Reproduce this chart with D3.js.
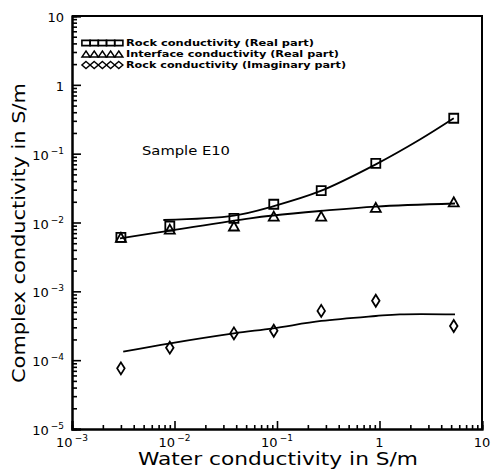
<!DOCTYPE html>
<html>
<head>
<meta charset="utf-8">
<script src="https://cdn.jsdelivr.net/npm/d3@7/dist/d3.min.js"></script>
<style>
  html, body { margin: 0; padding: 0; background: #fff; }
  svg { display: block; }
  text { font-family: "DejaVu Sans", "Liberation Sans", sans-serif; fill: #000; }
</style>
</head>
<body>
<svg id="chart" width="491" height="470"></svg>
<script>
// Water conductivity (S/m) at which sample E10 was measured
const waterCond = [0.003, 0.009, 0.038, 0.093, 0.27, 0.92, 5.3];

// Measured values (S/m)
const rockReal      = [0.0061, 0.0089, 0.0115, 0.0184, 0.029, 0.0724, 0.327];
const interfaceReal = [0.0061, 0.0080, 0.0089, 0.0124, 0.0124, 0.0166, 0.0200];
const rockImag      = [7.6e-5, 1.52e-4, 2.45e-4, 2.68e-4, 5.2e-4, 7.3e-4, 3.13e-4];

// Model curves: [water conductivity, complex conductivity]
const rockRealFit = [[0.00778, 0.01087], [0.038, 0.0126], [0.0914, 0.0172], [0.263, 0.0285], [0.92, 0.070], [2.48, 0.1607], [5.3, 0.327]];
const interfaceFit = [[0.00294, 0.00589], [0.00909, 0.00764], [0.0546, 0.0115], [0.0914, 0.01264], [0.263, 0.01469], [0.92, 0.01706], [5.45, 0.01888]];
const rockImagFit = [[0.00316, 1.327e-4], [0.00909, 1.757e-4], [0.038, 2.45e-4], [0.0914, 2.90e-4], [0.27, 3.71e-4], [0.92, 4.38e-4], [1.585, 4.64e-4], [5.45, 4.64e-4]];

// Axis tick labels
const xTickValues = [1e-3, 1e-2, 1e-1, 1, 10];
const xTickLabels = [["10", "−3"], ["10", "−2"], ["10", "−1"], ["1", ""], ["10", ""]];
const yTickValues = [1e-5, 1e-4, 1e-3, 1e-2, 1e-1, 1, 10];
const yTickLabels = [["10", "−5"], ["10", "−4"], ["10", "−3"], ["10", "−2"], ["10", "−1"], ["1", ""], ["10", ""]];

const legendNames = ["Rock conductivity (Real part)", "Interface conductivity (Real part)", "Rock conductivity (Imaginary part)"];
const legendLengths = [188, 213, 220];
const sampleName = "Sample E10";

const svg = d3.select("#chart");
const plotLeft = 72, plotRight = 482, plotTop = 16, plotBottom = 429;

const x = d3.scaleLog().domain([1e-3, 10]).range([plotLeft, plotRight]);
const y = d3.scaleLog().domain([1e-5, 10]).range([plotBottom, plotTop]);

// minor tick positions (2..9 in every decade)
function minors(domain) {
  const out = [];
  for (let e = Math.round(Math.log10(domain[0])); e < Math.round(Math.log10(domain[1])); e++) {
    for (let m = 2; m <= 9; m++) out.push(m * Math.pow(10, e));
  }
  return out;
}

// frame: top and right edges
svg.append("path")
  .attr("d", `M${plotLeft},${plotTop}H${plotRight}V${plotBottom}`)
  .attr("fill", "none").attr("stroke", "#000").attr("stroke-width", 2);

// x axis, ticks pointing into the plot
const gx = svg.append("g").attr("transform", `translate(0,${plotBottom})`);
gx.append("g").call(d3.axisBottom(x).tickValues(minors(x.domain())).tickSize(-4).tickFormat(""));
gx.append("g").call(d3.axisBottom(x).tickValues(xTickValues).tickSize(-8).tickFormat(""));
gx.selectAll(".domain").attr("stroke-width", 2);
gx.selectAll(".tick line").attr("stroke-width", 1.6);

// y axis, ticks pointing into the plot
const gy = svg.append("g").attr("transform", `translate(${plotLeft},0)`);
gy.append("g").call(d3.axisLeft(y).tickValues(minors(y.domain())).tickSize(-5).tickFormat(""));
gy.append("g").call(d3.axisLeft(y).tickValues(yTickValues).tickSize(-9).tickFormat(""));
gy.selectAll(".domain").attr("stroke-width", 2);
gy.selectAll(".tick line").attr("stroke-width", 1.6);

// tick labels with superscript exponents
xTickValues.forEach((v, i) => {
  const t = svg.append("text")
    .attr("x", x(v)).attr("y", plotBottom + 18)
    .attr("text-anchor", "middle")
    .attr("font-size", 13);
  t.append("tspan").text(xTickLabels[i][0]);
  if (xTickLabels[i][1]) t.append("tspan").attr("dy", -6).attr("font-size", 9).attr("dx", 2).text(xTickLabels[i][1]);
});
yTickValues.forEach((v, i) => {
  const t = svg.append("text")
    .attr("x", plotLeft - 8).attr("y", y(v) + 6)
    .attr("text-anchor", "end")
    .attr("font-size", 13);
  t.append("tspan").text(yTickLabels[i][0]);
  if (yTickLabels[i][1]) t.append("tspan").attr("dy", -6).attr("font-size", 9).attr("dx", 2).text(yTickLabels[i][1]);
});

// axis titles
svg.append("text")
  .attr("x", (plotLeft + plotRight) / 2 + 1).attr("y", 465)
  .attr("text-anchor", "middle").attr("font-size", 17)
  .attr("textLength", 280).attr("lengthAdjust", "spacingAndGlyphs")
  .text("Water conductivity in S/m");
svg.append("text")
  .attr("transform", "translate(25,233) rotate(-90)")
  .attr("text-anchor", "middle").attr("font-size", 17)
  .attr("textLength", 300).attr("lengthAdjust", "spacingAndGlyphs")
  .text("Complex conductivity in S/m");

// model curves
const line = d3.line().x(d => x(d[0])).y(d => y(d[1])).curve(d3.curveCatmullRom.alpha(0.5));
[rockRealFit, interfaceFit, rockImagFit].forEach(c => {
  svg.append("path").attr("d", line(c))
    .attr("fill", "none").attr("stroke", "#000").attr("stroke-width", 1.8);
});

// marker shapes
const squarePath = s => `M${-s / 2},${-s / 2}h${s}v${s}h${-s}Z`;
const trianglePath = (w, h) => `M0,${-h / 2}L${w / 2},${h / 2}L${-w / 2},${h / 2}Z`;
const diamondPath = (w, h) => `M0,${-h / 2}L${w / 2},0L0,${h / 2}L${-w / 2},0Z`;

function drawMarkers(values, pathStr) {
  svg.append("g").selectAll("path").data(values).join("path")
    .attr("transform", (d, i) => `translate(${x(waterCond[i])},${y(d)})`)
    .attr("d", pathStr)
    .attr("fill", "none").attr("stroke", "#000").attr("stroke-width", 1.8);
}
drawMarkers(rockReal, squarePath(9));
drawMarkers(interfaceReal, trianglePath(10, 9));
drawMarkers(rockImag, diamondPath(7.5, 12));

// legend
const legY = [43, 54, 65];
const lg = svg.append("g");
for (let k = 0; k < 5; k++) {
  const cx = 86 + k * 8.2;
  lg.append("path").attr("transform", `translate(${cx},${legY[0]})`).attr("d", `M-4.1,-2.6h8.2v5.2h-8.2Z`)
    .attr("fill", "none").attr("stroke", "#000").attr("stroke-width", 1.6);
  lg.append("path").attr("transform", `translate(${cx},${legY[1]})`).attr("d", trianglePath(8.2, 6))
    .attr("fill", "none").attr("stroke", "#000").attr("stroke-width", 1.4);
  lg.append("path").attr("transform", `translate(${cx},${legY[2]})`).attr("d", diamondPath(8.2, 7))
    .attr("fill", "none").attr("stroke", "#000").attr("stroke-width", 1.4);
}
legendNames.forEach((n, i) => {
  lg.append("text").attr("x", 126).attr("y", legY[i] + 3.3)
    .attr("font-size", 9).attr("font-weight", "bold")
    .attr("textLength", legendLengths[i]).attr("lengthAdjust", "spacingAndGlyphs")
    .text(n);
});

// sample label
svg.append("text").attr("x", 142).attr("y", 155)
  .attr("font-size", 12.5).attr("textLength", 88).attr("lengthAdjust", "spacingAndGlyphs")
  .text(sampleName);
</script>
</body>
</html>
